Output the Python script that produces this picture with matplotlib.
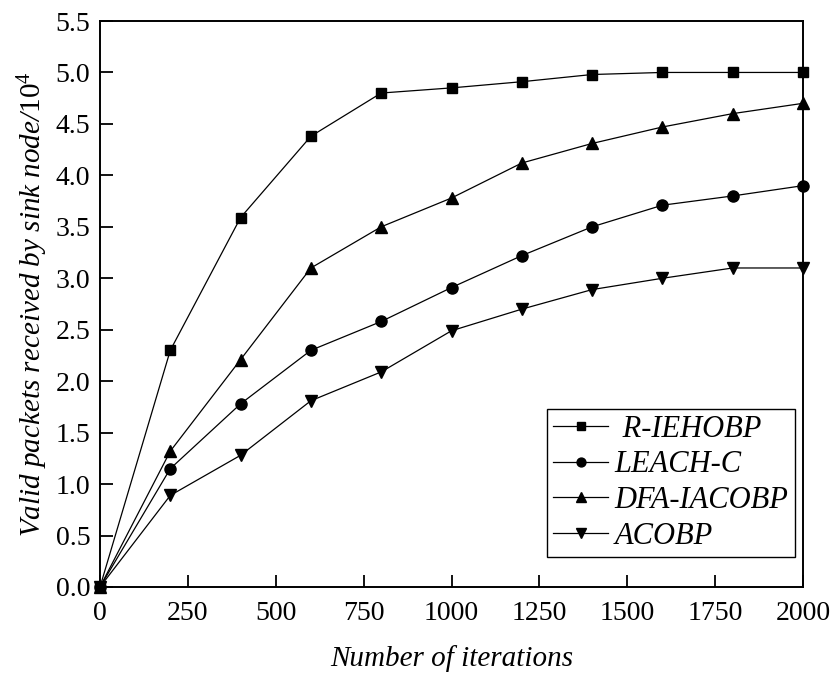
import matplotlib
matplotlib.use("Agg")
import matplotlib.pyplot as plt

plt.rcParams['font.family'] = ['Liberation Serif', 'DejaVu Serif']
plt.rcParams['mathtext.fontset'] = 'custom'
plt.rcParams['mathtext.it'] = 'Liberation Serif:italic'
plt.rcParams['mathtext.rm'] = 'Liberation Serif'

iterations = [0, 200, 400, 600, 800, 1000, 1200, 1400, 1600, 1800, 2000]
r_iehobp = [0, 2.30, 3.59, 4.38, 4.80, 4.85, 4.91, 4.98, 5.00, 5.00, 5.00]
leach_c = [0, 1.15, 1.78, 2.30, 2.58, 2.91, 3.22, 3.50, 3.71, 3.80, 3.90]
dfa_iacobp = [0, 1.32, 2.21, 3.10, 3.50, 3.78, 4.12, 4.31, 4.47, 4.60, 4.70]
acobp = [0, 0.89, 1.28, 1.81, 2.09, 2.49, 2.70, 2.89, 3.00, 3.10, 3.10]

series = [
    (" R-IEHOBP", r_iehobp, 's', 7),
    ("LEACH-C", leach_c, 'o', 8),
    ("DFA-IACOBP", dfa_iacobp, '^', 9),
    ("ACOBP", acobp, 'v', 9),
]

xticks = [0, 250, 500, 750, 1000, 1250, 1500, 1750, 2000]
yticks = [0.0, 0.5, 1.0, 1.5, 2.0, 2.5, 3.0, 3.5, 4.0, 4.5, 5.0, 5.5]

fig = plt.figure(figsize=(8.34, 6.76), dpi=100)
ax = fig.add_axes([100/834, 1-587/676, 703/834, 566/676])

for label, vals, m, ms in series:
    ax.plot(iterations, vals, color='black', linewidth=0.9, marker=m,
            markersize=ms, label=label, clip_on=False, zorder=3)

ax.set_xlim(0, 2000)
ax.set_ylim(0, 5.5)
ax.set_xticks(xticks)
ax.set_xticklabels([str(t) for t in xticks])
ax.set_yticks(yticks)
ax.set_yticklabels([f"{t:.1f}" for t in yticks])
ax.tick_params(direction='in', length=9, width=1.3, labelsize=20, pad=7)
ax.tick_params(axis='x', pad=10)
for s in ax.spines.values():
    s.set_linewidth(1.4)

ax.set_xlabel("Number of iterations", fontsize=21, fontstyle='italic', labelpad=14)
ax.set_ylabel(r"Valid packets received by sink node/$\mathit{10^4}$", fontsize=21,
              fontstyle='italic', labelpad=4)

leg = ax.legend(loc='lower right', bbox_to_anchor=(0.988, 0.053), borderaxespad=0,
                frameon=True, fancybox=False, edgecolor='black',
                handlelength=1.8, labelspacing=0.22, handletextpad=0.2,
                borderpad=0.2, markerscale=0.8,
                prop={'style': 'italic', 'size': 22})
leg.get_frame().set_linewidth(1.0)
leg.get_frame().set_alpha(1)

fig.savefig("out.png", dpi=100)
